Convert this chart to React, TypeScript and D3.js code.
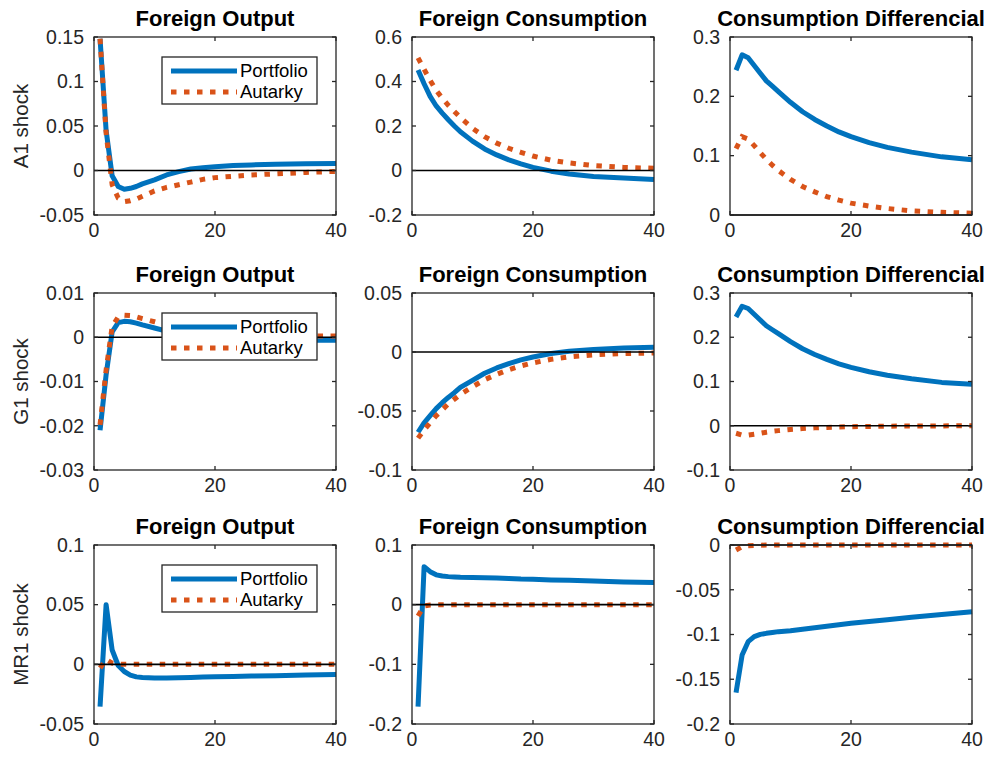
import React, { useEffect, useRef } from 'react';
import * as d3 from 'd3';

const periods = [1, 2, 3, 4, 5, 6, 7, 8, 10, 12, 14, 16, 18, 20, 23, 26, 30, 35, 40];

const shockLabels = ['A1 shock', 'G1 shock', 'MR1 shock'];
const panelTitles = ['Foreign Output', 'Foreign Consumption', 'Consumption Differencial'];
const seriesNames = ['Portfolio', 'Autarky'];
const xTickValues = [0, 20, 40];

// A1 shock
const a1OutputPortfolio = [0.148, 0.045, -0.006, -0.018, -0.021, -0.020, -0.018, -0.015, -0.0105, -0.005, -0.0013, 0.0017, 0.003, 0.0043, 0.0055, 0.0063, 0.007, 0.0075, 0.008];
const a1OutputAutarky = [0.148, 0.042, -0.016, -0.031, -0.035, -0.034, -0.032, -0.029, -0.023, -0.019, -0.016, -0.013, -0.010, -0.008, -0.0065, -0.005, -0.0038, -0.0022, -0.001];
const a1ConsPortfolio = [0.452, 0.39, 0.333, 0.29, 0.258, 0.228, 0.2, 0.174, 0.132, 0.097, 0.07, 0.048, 0.03, 0.014, -0.003, -0.016, -0.027, -0.034, -0.04];
const a1ConsAutarky = [0.506, 0.455, 0.405, 0.36, 0.325, 0.293, 0.265, 0.238, 0.19, 0.152, 0.123, 0.1, 0.082, 0.065, 0.046, 0.034, 0.022, 0.014, 0.01];
const a1DiffPortfolio = [0.244, 0.27, 0.265, 0.252, 0.239, 0.226, 0.217, 0.208, 0.19, 0.174, 0.161, 0.15, 0.14, 0.132, 0.122, 0.114, 0.106, 0.098, 0.093];
const a1DiffAutarky = [0.112, 0.132, 0.128, 0.117, 0.105, 0.094, 0.084, 0.075, 0.06, 0.048, 0.039, 0.031, 0.025, 0.02, 0.015, 0.011, 0.007, 0.0045, 0.003];

// G1 shock
const g1OutputPortfolio = [-0.021, -0.0085, 0.0012, 0.0033, 0.0036, 0.0035, 0.0032, 0.0028, 0.0021, 0.0014, 0.0008, 0.0003, 0.0, -0.0002, -0.0004, -0.0005, -0.0006, -0.0007, -0.0007];
const g1OutputAutarky = [-0.0198, -0.0074, 0.0024, 0.0046, 0.005, 0.0049, 0.0046, 0.0042, 0.0035, 0.0028, 0.0022, 0.0017, 0.0013, 0.001, 0.0007, 0.0005, 0.0004, 0.0003, 0.0003];
const g1ConsPortfolio = [-0.068, -0.06, -0.054, -0.048, -0.043, -0.0385, -0.0345, -0.03, -0.024, -0.018, -0.0135, -0.0098, -0.0067, -0.0042, -0.0013, 0.0007, 0.0022, 0.0033, 0.004];
const g1ConsAutarky = [-0.073, -0.066, -0.06, -0.054, -0.049, -0.044, -0.04, -0.036, -0.0295, -0.0235, -0.019, -0.015, -0.0118, -0.0092, -0.0062, -0.0041, -0.0024, -0.0013, -0.0008];
const g1DiffPortfolio = [0.246, 0.27, 0.265, 0.252, 0.239, 0.226, 0.217, 0.208, 0.19, 0.174, 0.161, 0.15, 0.14, 0.132, 0.122, 0.114, 0.106, 0.098, 0.094];
const g1DiffAutarky = [-0.017, -0.021, -0.021, -0.019, -0.017, -0.0145, -0.0125, -0.011, -0.0083, -0.0063, -0.0048, -0.0037, -0.0028, -0.0022, -0.0015, -0.001, -0.0006, -0.0003, -0.0001];

// MR1 shock
const mr1OutputPortfolio = [-0.0355, 0.05, 0.012, -0.001, -0.006, -0.009, -0.0105, -0.011, -0.0115, -0.0115, -0.0112, -0.011, -0.0107, -0.0104, -0.0101, -0.0098, -0.0095, -0.009, -0.0085];
const mr1OutputAutarky = [-0.003, 0.004, 0.001, 0.0002, 0, 0, 0, 0, 0, 0, 0, 0, 0, 0, 0, 0, 0, 0, 0];
const mr1ConsPortfolio = [-0.171, 0.0637, 0.0553, 0.05, 0.048, 0.047, 0.0465, 0.046, 0.0455, 0.045, 0.0445, 0.044, 0.043, 0.0425, 0.0415, 0.041, 0.0397, 0.038, 0.037];
const mr1ConsAutarky = [-0.019, -0.002, -0.0005, 0, 0, 0, 0, 0, 0, 0, 0, 0, 0, 0, 0, 0, 0, 0, 0];
const mr1DiffPortfolio = [-0.165, -0.123, -0.108, -0.1024, -0.0999, -0.0987, -0.0977, -0.0968, -0.0957, -0.0941, -0.0925, -0.0908, -0.0891, -0.0875, -0.0855, -0.0835, -0.0808, -0.0776, -0.0745];
const mr1DiffAutarky = [-0.0056, -0.0019, -0.0008, -0.0004, -0.0002, -0.0001, 0, 0, 0, 0, 0, 0, 0, 0, 0, 0, 0, 0, 0];

// y tick values, per panel
const yTicksA1 = [[-0.05, 0, 0.05, 0.1, 0.15], [-0.2, 0, 0.2, 0.4, 0.6], [0, 0.1, 0.2, 0.3]];
const yTicksG1 = [[-0.03, -0.02, -0.01, 0, 0.01], [-0.1, -0.05, 0, 0.05], [-0.1, 0, 0.1, 0.2, 0.3]];
const yTicksMR1 = [[-0.05, 0, 0.05, 0.1], [-0.2, -0.1, 0, 0.1], [-0.2, -0.15, -0.1, -0.05, 0]];

const panels = [
    [a1OutputPortfolio, a1OutputAutarky, a1ConsPortfolio, a1ConsAutarky, a1DiffPortfolio, a1DiffAutarky],
    [g1OutputPortfolio, g1OutputAutarky, g1ConsPortfolio, g1ConsAutarky, g1DiffPortfolio, g1DiffAutarky],
    [mr1OutputPortfolio, mr1OutputAutarky, mr1ConsPortfolio, mr1ConsAutarky, mr1DiffPortfolio, mr1DiffAutarky],
];
const yTicks = [yTicksA1, yTicksG1, yTicksMR1];

const W = 990, H = 757;
const colLeft = [94, 412, 730];
const rowTop = [37, 293, 545];
const rowHeight = [178, 177, 179];
const axW = 242;

const BLUE = '#0072BD';
const ORANGE = '#D95319';
const AXIS = '#262626';
const FONT = '"Liberation Sans", Arial, Helvetica, sans-serif';
const DOTS = '5.5,7.5';

const drawPanel = (svg, row, col) => {
    const left = colLeft[col], top = rowTop[row], h = rowHeight[row];
    const ticks = yTicks[row][col];
    const x = d3.scaleLinear().domain([0, 40]).range([left, left + axW]);
    const y = d3.scaleLinear().domain([ticks[0], ticks[ticks.length - 1]]).range([top + h, top]);
    const g = svg.append('g');

    const line = d3.line().x((d, i) => x(periods[i])).y(d => y(d));
    const portfolio = panels[row][col * 2];
    const autarky = panels[row][col * 2 + 1];

    g.append('path').attr('d', line(portfolio)).attr('fill', 'none')
        .attr('stroke', BLUE).attr('stroke-width', 5).attr('stroke-linejoin', 'round');
    g.append('path').attr('d', line(autarky)).attr('fill', 'none')
        .attr('stroke', ORANGE).attr('stroke-width', 5).attr('stroke-dasharray', DOTS);

    // zero line
    g.append('line').attr('x1', x(0)).attr('x2', x(40)).attr('y1', y(0)).attr('y2', y(0))
        .attr('stroke', '#000').attr('stroke-width', 1.6);

    // box
    g.append('rect').attr('x', left).attr('y', top).attr('width', axW).attr('height', h)
        .attr('fill', 'none').attr('stroke', AXIS).attr('stroke-width', 1.3);

    const tl = 4;
    xTickValues.forEach(v => {
        g.append('line').attr('x1', x(v)).attr('x2', x(v)).attr('y1', top + h).attr('y2', top + h - tl).attr('stroke', AXIS).attr('stroke-width', 1.3);
        g.append('line').attr('x1', x(v)).attr('x2', x(v)).attr('y1', top).attr('y2', top + tl).attr('stroke', AXIS).attr('stroke-width', 1.3);
        g.append('text').attr('x', x(v)).attr('y', top + h + 22).attr('text-anchor', 'middle')
            .attr('font-size', 19.5).attr('fill', AXIS).text(v);
    });
    ticks.forEach(v => {
        g.append('line').attr('x1', left).attr('x2', left + tl).attr('y1', y(v)).attr('y2', y(v)).attr('stroke', AXIS).attr('stroke-width', 1.3);
        g.append('line').attr('x1', left + axW).attr('x2', left + axW - tl).attr('y1', y(v)).attr('y2', y(v)).attr('stroke', AXIS).attr('stroke-width', 1.3);
        g.append('text').attr('x', left - 10).attr('y', y(v)).attr('dy', '0.35em').attr('text-anchor', 'end')
            .attr('font-size', 19.5).attr('fill', AXIS).text(String(v));
    });

    g.append('text').attr('x', left + axW / 2).attr('y', top - 11).attr('text-anchor', 'middle')
        .attr('font-size', 22).attr('font-weight', 'bold').attr('fill', '#000').text(panelTitles[col]);

    if (col === 0) {
        g.append('text').attr('transform', `translate(28,${top + h / 2}) rotate(-90)`)
            .attr('text-anchor', 'middle').attr('font-size', 20.5).attr('fill', AXIS).text(shockLabels[row]);

        // legend
        const lw = 155, lh = 47;
        const lx = left + axW - 19 - lw, ly = top + 20;
        const lg = g.append('g');
        lg.append('rect').attr('x', lx).attr('y', ly).attr('width', lw).attr('height', lh)
            .attr('fill', '#fff').attr('stroke', AXIS).attr('stroke-width', 1.3);
        [BLUE, ORANGE].forEach((c, i) => {
            const yy = ly + 14 + i * 21;
            lg.append('line').attr('x1', lx + 9).attr('x2', lx + 75).attr('y1', yy).attr('y2', yy)
                .attr('stroke', c).attr('stroke-width', 5).attr('stroke-dasharray', i === 1 ? DOTS : null);
            lg.append('text').attr('x', lx + 78).attr('y', yy).attr('dy', '0.35em')
                .attr('font-size', 18.5).attr('fill', '#000').text(seriesNames[i]);
        });
    }
};

const App = () => {
    const ref = useRef(null);

    useEffect(() => {
        const svg = d3.select(ref.current);
        svg.selectAll('*').remove();
        svg.append('rect').attr('width', W).attr('height', H).attr('fill', '#fff');
        for (let r = 0; r < 3; r++) {
            for (let c = 0; c < 3; c++) {
                drawPanel(svg, r, c);
            }
        }
    }, []);

    return (
        <div>
            <style>{'body{margin:0}'}</style>
            <svg ref={ref} width={W} height={H} style={{ display: 'block', fontFamily: FONT }} />
        </div>
    );
};

export default App;
